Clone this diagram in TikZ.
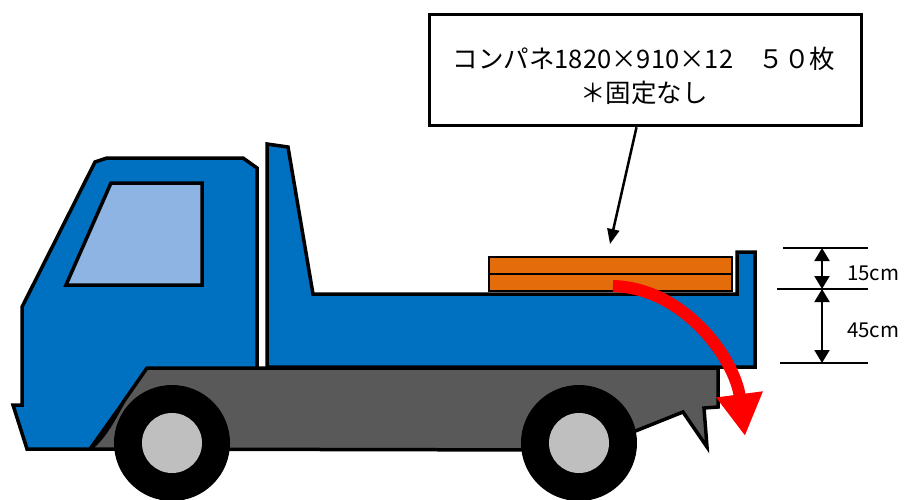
\documentclass[tikz,border=0pt]{standalone}
\usepackage{fontspec}
\setmainfont{Noto Sans CJK JP}
\usetikzlibrary{arrows.meta}
\definecolor{truckblue}{HTML}{0070C0}
\definecolor{glassblue}{HTML}{8EB4E3}
\definecolor{framegray}{HTML}{595959}
\definecolor{hubgray}{HTML}{BFBFBF}
\definecolor{plankorange}{HTML}{E46C0A}
\begin{document}
\begin{tikzpicture}[x=1pt, y=-1pt, body/.style = {draw, line width=3.5pt, fill=truckblue},
				plank/.style={draw, line width=2.5pt, fill=plankorange},
				dimline/.style={line width=2pt},
				dimarrow/.style={line width=2pt, {Triangle[length=13pt,width=15pt]}-{Triangle[length=13pt,width=15pt]}},
				notebox/.style={draw, line width=3.5pt, minimum width=432pt, minimum height=111pt},
				notetext/.style={font=\fontsize{25.5}{34}\selectfont, align=center, inner sep=0pt},
				dimlabel/.style={font=\fontsize{20.5}{22}\selectfont, anchor=west, inner sep=0pt}]
				
				\useasboundingbox (0,0) rectangle (904,499);
				
				\draw[body] (95,162) -- (107,158) -- (243,158) -- (257,168) -- (257,369) -- (147,369) -- (90,449) -- (27,449) -- (13,405) -- (22,405) -- (22,307) -- cycle;
				\draw[draw, line width=3.5pt, fill=glassblue] (111,183) -- (202,183) -- (202,285) -- (66,285) -- cycle;
				
				\draw[draw, line width=3.5pt, fill=framegray] (90,449) .. controls (106,436) and (114,418) .. (124,401) -- (147,368) -- (718,368) -- (718,407) -- (704,408) -- (707,447) -- (683,412) -- (633,432) -- (560,450) -- cycle;
				
				\draw[body] (267,144) -- (288,147) -- (313,294) -- (737,294) -- (737,252) -- (755,252) -- (755,367) -- (267,367) -- cycle;
				
				\foreach \cx in {172,579}{
					\fill[black] (\cx,443) circle[radius=58pt];
					\fill[hubgray] (\cx,443) circle[radius=30pt];
				}
				
				\draw[plank] (489,257) rectangle (732,274);
				\draw[plank] (489,274) rectangle (732,291);
				
				\draw[red, line width=12pt, -{Triangle[length=42pt,width=44pt]}] (613,286) .. controls (685,288) and (735,360) .. (745,436);
				
				\node[notebox] (note) at (645.5,70) {};
				\node[notetext] (notetxt) at (644,76) {コンパネ1820×910×12　５０枚\\＊固定なし};
				\coordinate (stacktop) at (610,244);
				\draw[line width=2.5pt, -{Triangle[length=15pt,width=12pt]}] ([xshift=-9pt]note.south) to (stacktop);
				
				\coordinate (top l) at (783,248);  \coordinate (top r) at (868,248);
				\coordinate (mid l) at (777,289);  \coordinate (mid r) at (868,289);
				\coordinate (low l) at (780,363);  \coordinate (low r) at (868,363);
				\draw[dimline] (top l) to (top r);
				\draw[dimline] (mid l) to (mid r);
				\draw[dimline] (low l) to (low r);
				\coordinate (a1) at (822,248);
				\coordinate (a2) at (822,289);
				\coordinate (a3) at (822,363);
				\draw[dimarrow] (a1) to (a2);
				\draw[dimarrow] (a2) to (a3);
				
				\node[dimlabel] (h15) at (847,273) {15cm};
				\node[dimlabel] (h45) at (847,330) {45cm};
			\end{tikzpicture}
\end{document}
